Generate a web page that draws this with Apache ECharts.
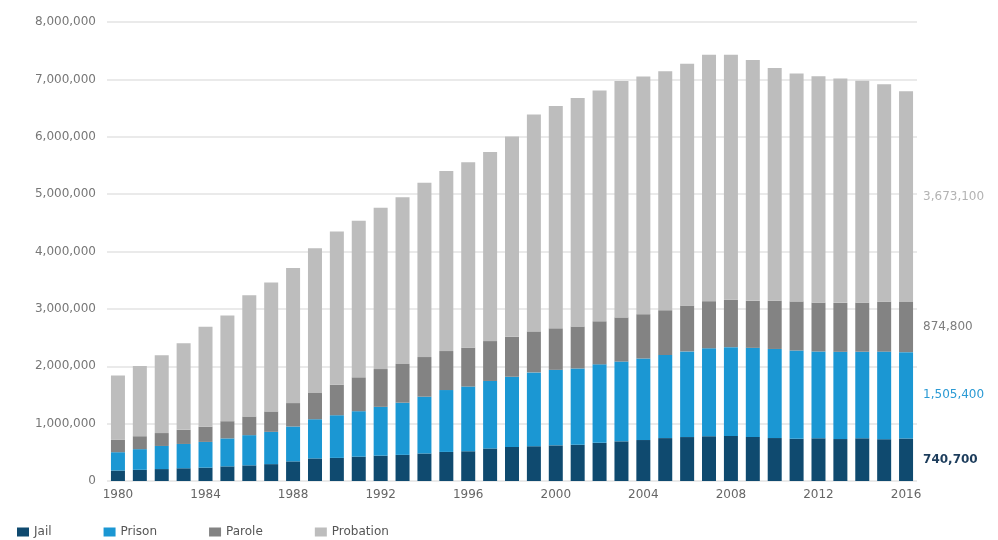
<!DOCTYPE html>
<html>
<head>
<meta charset="utf-8">
<script src="https://cdn.jsdelivr.net/npm/echarts@6/dist/echarts.min.js"></script>
<style>
  html, body { margin: 0; padding: 0; background: #fff; }
  #chart { width: 998px; height: 540px; }
</style>
</head>
<body>
<div id="chart"></div>
<script>
// correctional population, 1980-2016
var years = [];
for (var y = 1980; y <= 2016; y++) years.push(String(y));

var jail = [182300, 195100, 207900, 221800, 233000, 255000, 272700, 294100, 341900, 393300,
  403000, 424100, 441800, 455500, 479800, 507000, 518500, 567100, 592500, 605900,
  621100, 631200, 665500, 691300, 714000, 747500, 765800, 780200, 785500, 767400,
  748700, 735600, 744500, 731200, 744600, 728200, 740700];
var prison = [319600, 360000, 402900, 423900, 448300, 487600, 526400, 562800, 607800, 683400,
  743400, 792500, 850600, 909400, 990100, 1078500, 1127500, 1176600, 1224500, 1287200,
  1316300, 1330000, 1367500, 1390300, 1421300, 1448300, 1493000, 1532800, 1547700, 1553600,
  1552700, 1538800, 1512400, 1520400, 1508600, 1526800, 1505400];
var parole = [220400, 225500, 224600, 246400, 267000, 300200, 325600, 355500, 408000, 456800,
  531400, 590400, 658600, 676100, 690400, 679400, 679700, 694800, 696400, 714500,
  723900, 732300, 750900, 769900, 771900, 780600, 799900, 821200, 826100, 819300,
  840700, 855500, 851200, 853200, 856900, 870500, 874800];
var probation = [1118100, 1225900, 1357300, 1510000, 1740900, 1840000, 2114600, 2247200, 2356500, 2522100,
  2670200, 2728500, 2811600, 2903100, 3040000, 3140000, 3230000, 3296500, 3490000, 3779900,
  3876000, 3980000, 4024100, 4120000, 4143800, 4166800, 4215400, 4293200, 4270900, 4199200,
  4055500, 3973800, 3944900, 3910600, 3864100, 3789800, 3673100];

var fmt = function (v) { return Number(v).toLocaleString('en-US'); };
var FONT = 'DejaVu Sans';

// only the last bar of each series carries its value label
function withEndLabel(arr, color, weight) {
  return arr.map(function (v, i) {
    if (i !== arr.length - 1) return v;
    return {
      value: v,
      label: {
        show: true, position: 'right', distance: 10,
        color: color, fontFamily: FONT, fontSize: 12, fontWeight: weight,
        formatter: function (p) { return fmt(p.value); }
      }
    };
  });
}

var chart = echarts.init(document.getElementById('chart'));
chart.setOption({
  backgroundColor: '#fff',
  animation: false,
  color: ['#0f4a6f', '#1b97d3', '#838383', '#bdbdbd'],
  grid: { left: 107, right: 81, top: 22, bottom: 59 },
  legend: {
    left: 12, top: 521,
    icon: 'rect', itemWidth: 12, itemHeight: 9, itemGap: 52,
    textStyle: { color: '#555', fontFamily: FONT, fontSize: 12 },
    data: ['Jail', 'Prison', 'Parole', 'Probation']
  },
  xAxis: {
    type: 'category', data: years,
    axisLine: { show: false }, axisTick: { show: false },
    axisLabel: { interval: 3, margin: 8, color: '#666', fontFamily: FONT, fontSize: 12 }
  },
  yAxis: {
    type: 'value', min: 0, max: 8000000, interval: 1000000,
    axisLine: { show: false }, axisTick: { show: false },
    axisLabel: { margin: 11, color: '#777', fontFamily: FONT, fontSize: 12, formatter: fmt },
    splitLine: { lineStyle: { color: '#e3e3e3', width: 1.5 } }
  },
  series: [
    { name: 'Jail', type: 'bar', stack: 'total', barWidth: 14,
      data: withEndLabel(jail, '#1d3d5c', 'bold') },
    { name: 'Prison', type: 'bar', stack: 'total', barWidth: 14,
      data: withEndLabel(prison, '#2a9ad4', 'normal') },
    { name: 'Parole', type: 'bar', stack: 'total', barWidth: 14,
      data: withEndLabel(parole, '#7d7d7d', 'normal') },
    { name: 'Probation', type: 'bar', stack: 'total', barWidth: 14,
      data: withEndLabel(probation, '#b3b3b3', 'normal') }
  ]
});
</script>
</body>
</html>
